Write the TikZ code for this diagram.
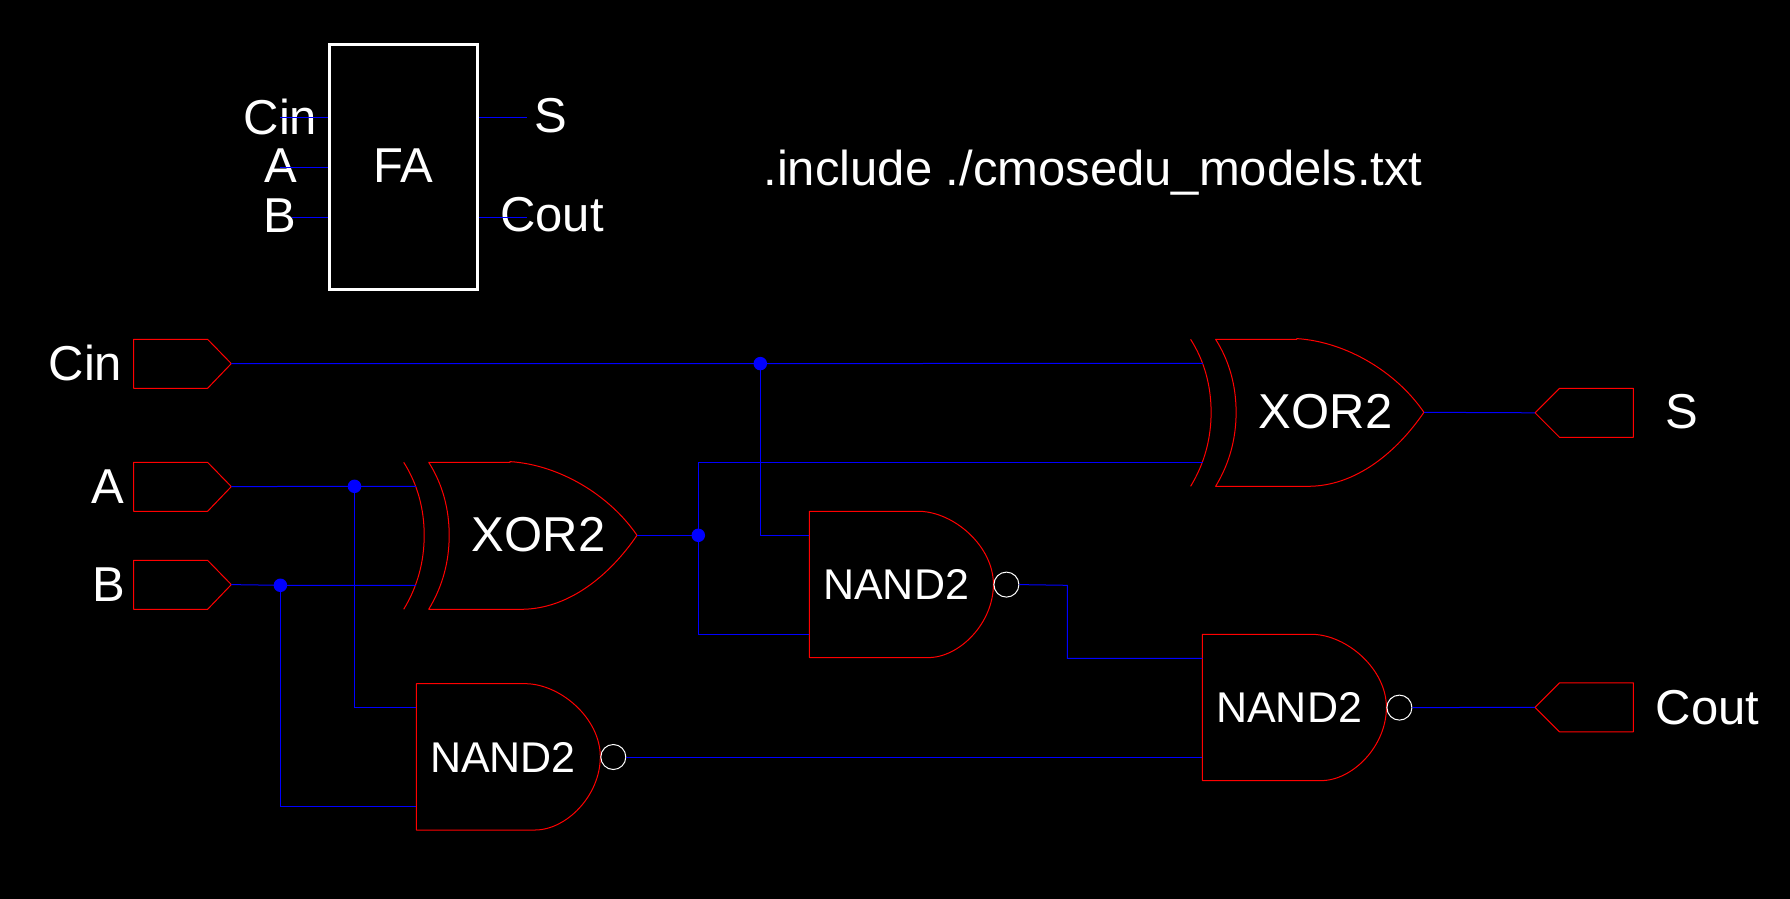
\documentclass[tikz,border=0pt]{standalone}
\usepackage{fontspec}
\setmainfont{Liberation Sans}
\usepackage{tikz}
\usetikzlibrary{arrows.meta, positioning, calc}
\tikzset{
    wire/.style={blue, line width=1pt},
    gateline/.style={red, line width=1pt, line join=round},
    bigtext/.style={white, inner sep=0pt, font=\fontsize{49}{49}\selectfont},
    gatetext/.style={white, inner sep=0pt, font=\fontsize{43}{43}\selectfont},
    junction/.style={circle, fill=blue, inner sep=0pt, minimum size=13.5pt},
    bubble/.style={circle, draw=white, line width=1pt, inner sep=0pt, minimum size=25pt},
    xorshape/.pic={
        \draw[gateline] (0,0) .. controls (14,22) and (20.5,47) .. (20.5,73) .. controls (20.5,99) and (14,124) .. (0,147);
        \draw[gateline] (25,0) .. controls (39,22) and (45.5,47) .. (45.5,73) .. controls (45.5,99) and (39,124) .. (25,147)
            -- (117.3,147) .. controls (165,147) and (206,113) .. (233.3,73)
            .. controls (206,33) and (156,2.5) .. (106.3,-0.7) -- (106.3,0) -- cycle;
        \node[bigtext] (-name) at (135,72) {XOR2};
        \coordinate (-in1) at (12.3,24);
        \coordinate (-in2) at (12.3,123);
        \coordinate (-out) at (233.3,73);
    },
    nandshape/.pic={
        \draw[gateline] (0,0) -- (110.4,0) .. controls (145,1) and (184,35) .. (184,73)
            .. controls (184,112) and (150,146.3) .. (118.7,146.3) -- (0,146.3) -- cycle;
        \node[gatetext] (-name) at (86.7,73.3) {NAND2};
        \node[bubble] (-bub) at (197,73.3) {};
        \coordinate (-in1) at (0,24);
        \coordinate (-in2) at (0,122.7);
        \coordinate (-out) at (-bub.east);
    },
    inportshape/.pic={
        \draw[gateline] (0,0) -- (74,0) -- (97.7,24.3) -- (74,49) -- (0,49) -- cycle;
        \coordinate (-pin) at (97.7,24.3);
    },
    outportshape/.pic={
        \draw[gateline] (0,24.5) -- (24.5,0) -- (98.4,0) -- (98.4,49) -- (24.5,49) -- cycle;
        \coordinate (-pin) at (0,24.5);
    }
}

\begin{document}
\begin{tikzpicture}[x=1pt, y=-1pt]
    \useasboundingbox (0,0) rectangle (1790,898);
    \fill[black] (-5,-5) rectangle (1795,903);

    % Symbol at the top
    \node[draw=white, line width=3pt, inner sep=0pt, minimum width=148pt, minimum height=245pt] (fa) at (403.5,166.5) {};
    \node[bigtext] (faname) at (403.5,166) {FA};
    \node[bigtext] (symCin) at (280.5,116.7) {Cin};
    \node[bigtext] (symA) at (280.5,166) {A};
    \node[bigtext] (symB) at (280.3,215.5) {B};
    \node[bigtext] (symS) at (551,116) {S};
    \node[bigtext] (symCout) at (552,215) {Cout};
    \node[bigtext, anchor=base] (incl) at (1093,185.3) {.include ./cmosedu\_models.txt};

    % Pin stubs
    \coordinate (stubCin) at (280,117);
    \coordinate (stubA) at (280,167);
    \coordinate (stubB) at (292,217);
    \coordinate (stubS) at (527,117);
    \coordinate (stubCout) at (527,217);
    \draw[wire] (stubCin) -- (stubCin -| fa.west);
    \draw[wire] (stubA) -- (stubA -| fa.west);
    \draw[wire] (stubB) -- (stubB -| fa.west);
    \draw[wire] (stubS -| fa.east) -- (stubS);
    \draw[wire] (stubCout -| fa.east) -- (stubCout);

    % Input and output ports
    \pic (portCin) at (133.6,339.3) {inportshape};
    \pic (portA) at (133.6,462.3) {inportshape};
    \pic (portB) at (133.6,560.3) {inportshape};
    \pic (portS) at (1535,388.3) {outportshape};
    \pic (portCout) at (1535,682.8) {outportshape};
    \node[bigtext] (lblCin) at (85.5,363) {Cin};
    \node[bigtext] (lblA) at (108,487) {A};
    \node[bigtext] (lblB) at (108.5,585) {B};
    \node[bigtext] (lblS) at (1682,412) {S};
    \node[bigtext] (lblCout) at (1707.5,708) {Cout};

    % Gates
    \pic (xorA) at (403.7,462.3) {xorshape};
    \pic (xorB) at (1190.6,339.3) {xorshape};
    \pic (nandA) at (809.4,511.3) {nandshape};
    \pic (nandB) at (1202.4,634.3) {nandshape};
    \pic (nandC) at (416.3,683.7) {nandshape};

    % Junctions
    \node[junction] (jCin) at (760.3,363.6) {};
    \node[junction] (jA) at (354.5,486.3) {};
    \node[junction] (jB) at (280.4,585.3) {};
    \node[junction] (jX) at (698.3,535.3) {};
    \coordinate (bendN) at (1067.3,585.3);

    % Wires
    \draw[wire] (portCin-pin) -- (jCin.center) -- (xorB-in1);
    \draw[wire] (jCin.center) |- (nandA-in1);
    \draw[wire] (portA-pin) -- (jA.center) -- (xorA-in1);
    \draw[wire] (jA.center) |- (nandC-in1);
    \draw[wire] (portB-pin) -- (jB.center) -- (xorA-in2);
    \draw[wire] (jB.center) |- (nandC-in2);
    \draw[wire] (xorA-out) -- (jX.center);
    \draw[wire] (jX.center) |- (xorB-in2);
    \draw[wire] (jX.center) |- (nandA-in2);
    \draw[wire] (xorB-out) -- (portS-pin);
    \draw[wire] (nandA-out) -- (bendN) |- (nandB-in1);
    \draw[wire] (nandC-out) -- (nandB-in2);
    \draw[wire] (nandB-out) -- (portCout-pin);
\end{tikzpicture}
\end{document}
